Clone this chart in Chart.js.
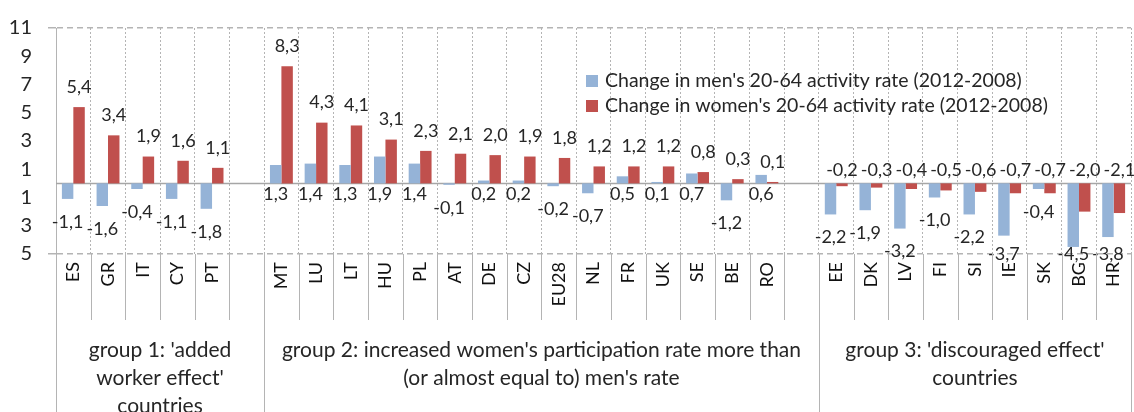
<!DOCTYPE html>
<html>
<head>
<meta charset="utf-8">
<script src="https://cdn.jsdelivr.net/npm/chart.js@4/dist/chart.umd.min.js"></script>
<style>
  html, body { margin: 0; padding: 0; background: #fff; }
  #wrap { width: 1134px; height: 412px; position: relative; }
</style>
</head>
<body>
<div id="wrap"><canvas id="activity"></canvas></div>
<script>
// categories ('' = empty slot between groups)
const countries = [
  'ES', 'GR', 'IT', 'CY', 'PT', '',
  'MT', 'LU', 'LT', 'HU', 'PL', 'AT', 'DE', 'CZ', 'EU28', 'NL', 'FR', 'UK', 'SE', 'BE', 'RO', '',
  'EE', 'DK', 'LV', 'FI', 'SI', 'IE', 'SK', 'BG', 'HR'
];

const menChange = [
  -1.1, -1.6, -0.4, -1.1, -1.8, null,
  1.3, 1.4, 1.3, 1.9, 1.4, -0.1, 0.2, 0.2, -0.2, -0.7, 0.5, 0.1, 0.7, -1.2, 0.6, null,
  -2.2, -1.9, -3.2, -1.0, -2.2, -3.7, -0.4, -4.5, -3.8
];

const womenChange = [
  5.4, 3.4, 1.9, 1.6, 1.1, null,
  8.3, 4.3, 4.1, 3.1, 2.3, 2.1, 2.0, 1.9, 1.8, 1.2, 1.2, 1.2, 0.8, 0.3, 0.1, null,
  -0.2, -0.3, -0.4, -0.5, -0.6, -0.7, -0.7, -2.0, -2.1
];

const seriesNames = [
  "Change in men's 20-64 activity rate (2012-2008)",
  "Change in women's 20-64 activity rate (2012-2008)"
];

const yMin = -5;
const yMax = 11;
const yStep = 2;

// group captions and the category index where each group starts / ends
const groupLabels = [
  ["group 1: 'added", "worker effect'", 'countries'],
  ["group 2: increased women's participation rate more than", "(or almost equal to) men's rate"],
  ["group 3: 'discouraged effect'", 'countries']
];
const groupStart = [0, 6, 22];
const groupEnd = [6, 22, 31];

const COLORS = {
  men: '#95b3d7',
  women: '#c0504d',
  text: '#262626',
  grid: '#b4b4b4',
  zero: '#a6a6a6'
};
const FONT = 'Lato, "Open Sans", sans-serif';

const fmt = v => v.toFixed(1).replace('.', ',');

// slot boundary helper (between category i-1 and i)
function boundaryX(xs, i) {
  const step = xs.getPixelForValue(1) - xs.getPixelForValue(0);
  return xs.getPixelForValue(0) + (i - 0.5) * step;
}

// data labels, zero line, legend, group captions
const decorPlugin = {
  id: 'decor',
  beforeDatasetsDraw(chart) {
    const { ctx, chartArea, scales: { y } } = chart;
    const zy = y.getPixelForValue(0);
    ctx.save();
    ctx.strokeStyle = COLORS.zero;
    ctx.lineWidth = 1.5;
    ctx.beginPath();
    ctx.moveTo(chartArea.left, zy);
    ctx.lineTo(chartArea.right, zy);
    ctx.stroke();
    ctx.restore();
  },
  afterDatasetsDraw(chart) {
    const { ctx, chartArea, scales: { y } } = chart;
    const zy = y.getPixelForValue(0);
    ctx.save();
    ctx.font = '18px ' + FONT;
    ctx.fillStyle = COLORS.text;
    ctx.textAlign = 'center';
    ctx.textBaseline = 'middle';

    chart.getDatasetMeta(0).data.forEach((bar, i) => {
      const v = menChange[i];
      if (v === null) return;
      const ty = v >= 0 ? zy + 11 : Math.min(bar.y + 23, chartArea.bottom);
      ctx.fillText(fmt(v), bar.x, ty);
    });
    chart.getDatasetMeta(1).data.forEach((bar, i) => {
      const v = womenChange[i];
      if (v === null) return;
      const ty = v >= 0 ? bar.y - 20 : zy - 13;
      ctx.fillText(fmt(v), bar.x, ty);
    });

    // legend inside the plot
    const lx = chartArea.left + 530;
    const rows = [chartArea.top + 53, chartArea.top + 78];
    ctx.textAlign = 'left';
    ctx.font = '19.5px ' + FONT;
    [COLORS.men, COLORS.women].forEach((c, k) => {
      ctx.fillStyle = c;
      ctx.fillRect(lx, rows[k] - 6, 12, 12);
      ctx.fillStyle = COLORS.text;
      ctx.fillText(seriesNames[k], lx + 19, rows[k]);
    });
    ctx.restore();
  },
  afterDraw(chart) {
    const { ctx, chartArea, scales: { x } } = chart;
    const bottom = chart.height;
    ctx.save();
    ctx.strokeStyle = COLORS.grid;
    ctx.lineWidth = 1;
    // separators in the label area
    for (let i = 0; i <= countries.length; i++) {
      const bx = Math.round(boundaryX(x, i)) + 0.5;
      const isGroup = groupStart.includes(i) || i === countries.length;
      ctx.beginPath();
      ctx.moveTo(bx, chartArea.bottom);
      ctx.lineTo(bx, isGroup ? bottom : chartArea.bottom + 66);
      ctx.stroke();
    }
    // group captions
    ctx.font = '21px ' + FONT;
    ctx.fillStyle = COLORS.text;
    ctx.textAlign = 'center';
    ctx.textBaseline = 'middle';
    groupLabels.forEach((lines, g) => {
      const cx = (boundaryX(x, groupStart[g]) + boundaryX(x, groupEnd[g])) / 2;
      lines.forEach((line, k) => {
        ctx.fillText(line, cx, chartArea.bottom + 96 + k * 28);
      });
    });
    ctx.restore();
  }
};

new Chart(document.getElementById('activity'), {
  type: 'bar',
  data: {
    labels: countries,
    datasets: [
      { label: seriesNames[0], data: menChange, backgroundColor: COLORS.men },
      { label: seriesNames[1], data: womenChange, backgroundColor: COLORS.women }
    ]
  },
  options: {
    responsive: true,
    maintainAspectRatio: false,
    animation: false,
    categoryPercentage: 0.66,
    barPercentage: 1,
    layout: { padding: { top: 24, right: 3, left: 0, bottom: 0 } },
    plugins: {
      legend: { display: false },
      tooltip: { enabled: false }
    },
    scales: {
      x: {
        offset: true,
        grid: { offset: true, color: COLORS.grid, lineWidth: 1, drawTicks: false },
        border: { display: false, dash: [2, 2] },
        ticks: {
          autoSkip: false,
          minRotation: 90,
          maxRotation: 90,
          padding: 8,
          color: '#111',
          font: { family: FONT, size: 18 }
        },
        afterFit: scale => {
          scale.height = 158;
          scale.paddingLeft = 0;
          scale.paddingRight = 0;
        }
      },
      y: {
        min: yMin,
        max: yMax,
        ticks: {
          stepSize: yStep,
          padding: 16,
          color: COLORS.text,
          font: { family: FONT, size: 20 },
          callback: v => String(Math.abs(v))
        },
        grid: {
          color: c => (c.tick && (c.tick.value === yMax || c.tick.value === yMin)) ? COLORS.grid : 'rgba(0,0,0,0)',
          lineWidth: 1.5,
          tickLength: 8
        },
        border: { display: true, color: COLORS.grid, dash: [6, 4] },
        afterFit: scale => { scale.width = 56; }
      }
    }
  },
  plugins: [decorPlugin]
});
</script>
</body>
</html>
